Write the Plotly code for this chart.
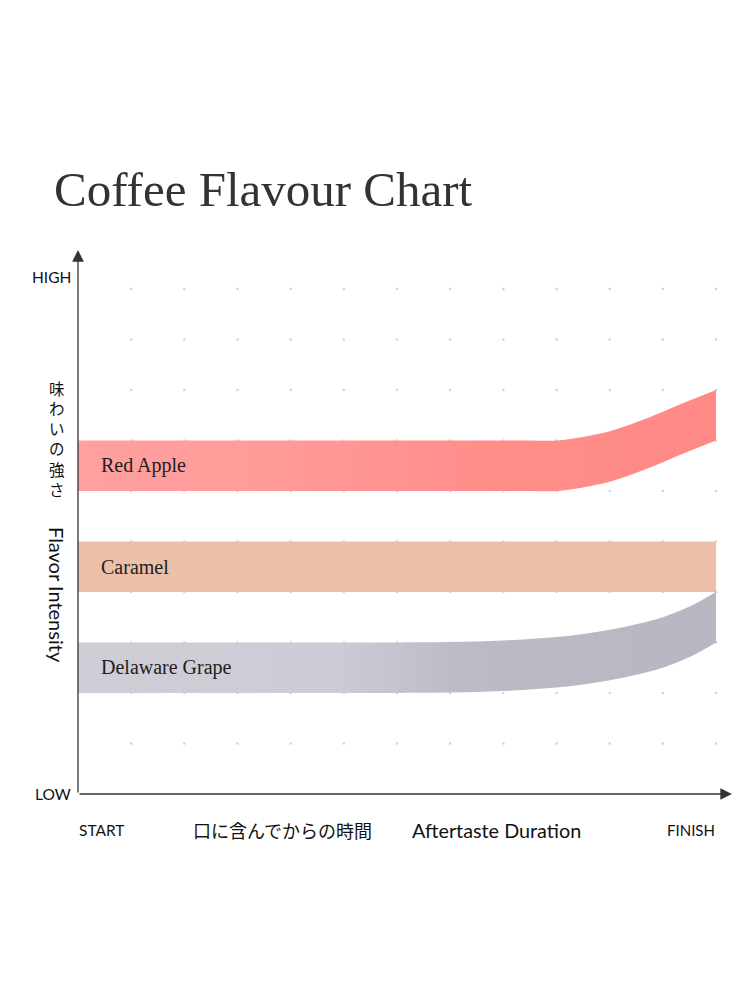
import plotly.graph_objects as go
import numpy as np

# time axis positions (START = 0, FINISH = 12)
x_pts = [0, 3, 6, 6.5, 7, 7.5, 8, 8.5, 9, 9.5, 10, 10.5, 11, 11.5, 12]

# edges of each flavour band (intensity 0 = LOW, 10 = HIGH)
red_apple_low = [6, 6, 6, 6, 6, 6, 6, 6, 6, 6.07, 6.18, 6.36, 6.57, 6.79, 7.0]
red_apple_high = [7, 7, 7, 7, 7, 7, 7, 7, 7, 7.07, 7.18, 7.36, 7.57, 7.79, 8.0]
caramel_low = [4] * 15
caramel_high = [5] * 15
grape_low = [2, 2, 2, 2.003, 2.01, 2.02, 2.04, 2.07, 2.11, 2.17, 2.25, 2.36, 2.5, 2.71, 3.0]
grape_high = [3, 3, 3, 3.003, 3.01, 3.02, 3.04, 3.07, 3.11, 3.17, 3.25, 3.36, 3.5, 3.71, 4.0]

flavours = ["Red Apple", "Caramel", "Delaware Grape"]
band_scales = [
    [[0, "#ffa09e"], [0.25, "#ff9d9b"], [0.6, "#ff8f8c"], [1, "#ff8986"]],
    [[0, "#ebbfa8"], [1, "#ebbfa8"]],
    [[0, "#cfcdd6"], [0.4, "#cdcbd5"], [0.6, "#bcbac4"], [1, "#b8b6c0"]],
]

grid_x = list(range(1, 13))
grid_y = list(range(1, 11))

X_MAX = 12.3
Y_MAX = 10.77
# page is shown with an 8px body margin
L, R, T, B = 70, 18, 242, 206
W, H = 742, 992
PW, PH = W - L - R, H - T - B


def px(x):
    return (x - 8 - L) / PW


def py(y):
    return (H + 8 - B - y) / PH


fig = go.Figure()

gx, gy = np.meshgrid(grid_x, grid_y)
fig.add_trace(go.Scatter(
    x=gx.ravel(), y=gy.ravel(), mode="markers",
    marker=dict(size=2.5, color="#d2d2d2"), hoverinfo="skip", showlegend=False))

edge = dict(width=1, color="rgba(0,0,0,0)", shape="spline", smoothing=1)
bands = [(red_apple_low, red_apple_high), (caramel_low, caramel_high), (grape_low, grape_high)]
for (low, high), name, scale in zip(bands, flavours, band_scales):
    fig.add_trace(go.Scatter(x=x_pts, y=low, mode="lines", line=edge,
                             hoverinfo="skip", showlegend=False))
    fig.add_trace(go.Scatter(
        x=x_pts, y=high, mode="lines", line=edge,
        fill="tonexty", fillgradient=dict(type="horizontal", colorscale=scale),
        name=name, showlegend=False))
    fig.add_annotation(x=0.39, y=(low[0] + high[0]) / 2, text=name, showarrow=False,
                       xanchor="left", yanchor="middle",
                       font=dict(family="Liberation Serif", size=20, color="#1e1e1e"))

# axis arrows
fig.add_annotation(x=0, y=Y_MAX, ax=0, ay=0, axref="x", ayref="y", text="",
                   showarrow=True, arrowhead=2, arrowsize=1.8, arrowwidth=1.3, arrowcolor="#333333")
fig.add_annotation(x=X_MAX, y=0, ax=0, ay=0, axref="x", ayref="y", text="",
                   showarrow=True, arrowhead=2, arrowsize=1.8, arrowwidth=1.3, arrowcolor="#333333")

sans = "Lato"
texts = [
    ("Coffee Flavour Chart", 52, 190, "left", "Liberation Serif", 49, "#333333"),
    ("HIGH", 73, 277, "right", sans, 15.5, "#111111"),
    ("LOW", 73, 794, "right", sans, 15.5, "#111111"),
    ("START", 77, 830, "left", sans, 15.5, "#111111"),
    ("FINISH", 717, 830, "right", sans, 15, "#111111"),
    ("口に含んでからの時間", 191, 830, "left", "Noto Sans CJK JP", 18, "#111111"),
    ("Aftertaste Duration", 410, 830, "left", sans, 19.8, "#111111"),
    ("<br>".join("味わいの強さ"), 57, 438, "center", "Noto Sans CJK JP", 15.5, "#111111"),
]
for t, x, y, anc, fam, size, col in texts:
    fig.add_annotation(x=px(x), y=py(y), xref="paper", yref="paper", text=t, showarrow=False,
                       xanchor=anc, yanchor="middle", font=dict(family=fam, size=size, color=col))

fig.add_annotation(x=px(57), y=py(595), xref="paper", yref="paper", text="Flavor Intensity",
                   showarrow=False, textangle=90, xanchor="center", yanchor="middle",
                   font=dict(family=sans, size=20, color="#111111"))

fig.update_xaxes(range=[0, X_MAX], showgrid=False, zeroline=False, showticklabels=False,
                 showline=False, fixedrange=True)
fig.update_yaxes(range=[0, Y_MAX], showgrid=False, zeroline=False, showticklabels=False,
                 showline=False, fixedrange=True)
fig.update_layout(width=W, height=H, margin=dict(l=L, r=R, t=T, b=B),
                  paper_bgcolor="white", plot_bgcolor="white")

fig.write_html("out.html")
